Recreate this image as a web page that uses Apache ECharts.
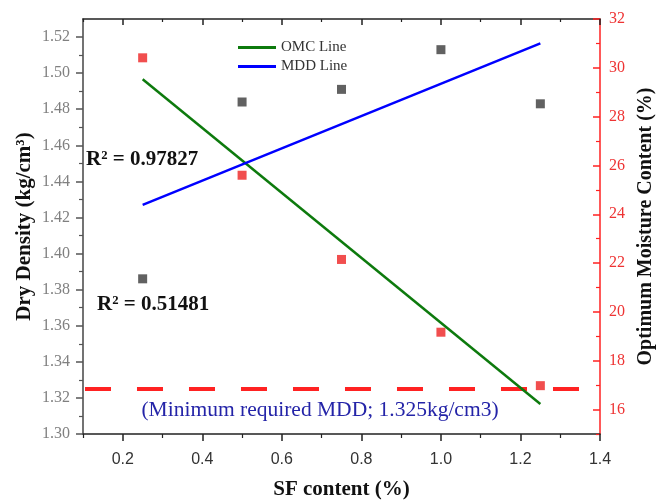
<!DOCTYPE html>
<html>
<head>
<meta charset="utf-8">
<script src="https://cdn.jsdelivr.net/npm/echarts@6/dist/echarts.min.js"></script>
<style>
  html, body { margin: 0; padding: 0; background: #fff; }
  #chart { width: 664px; height: 500px; }
</style>
</head>
<body>
<div id="chart"></div>
<script>
// measured points
const sfContent = [0.25, 0.5, 0.75, 1.0, 1.25];
const dryDensity = [1.386, 1.484, 1.491, 1.513, 1.483];
const moisture = [30.41, 25.6, 22.15, 19.17, 16.98];

// fitted lines (end points)
const fitX = [0.25, 1.25];
const mddFit = [1.427, 1.5165];
const omcFit = [29.53, 16.23];

// minimum required MDD
const minMddX = [0.105, 1.35];
const minMdd = 1.325;

// ticks
const xMajor = [0.2, 0.4, 0.6, 0.8, 1.0, 1.2, 1.4];
const xMinor = [0.1, 0.3, 0.5, 0.7, 0.9, 1.1, 1.3];
const leftMajor = [1.30, 1.32, 1.34, 1.36, 1.38, 1.40, 1.42, 1.44, 1.46, 1.48, 1.50, 1.52];
const leftMinor = [1.31, 1.33, 1.35, 1.37, 1.39, 1.41, 1.43, 1.45, 1.47, 1.49, 1.51];
const rightMajor = [16, 18, 20, 22, 24, 26, 28, 30, 32];
const rightMinor = [15, 17, 19, 21, 23, 25, 27, 29, 31];

const serif = "'Liberation Serif', 'Times New Roman', serif";
const red = '#ff2222';

const myChart = echarts.init(document.getElementById('chart'));

const xBase = { type: 'value', min: 0.1, max: 1.4, splitLine: { show: false } };
const leftBase = { type: 'value', min: 1.30, max: 1.53, position: 'left', splitLine: { show: false } };
const rightBase = { type: 'value', min: 15, max: 32, position: 'right', splitLine: { show: false } };

const option = {
  backgroundColor: '#fff',
  animation: false,
  grid: { left: 83, right: 64, top: 19, bottom: 66, containLabel: false, outerBoundsMode: 'none' },
  legend: {
    orient: 'vertical',
    left: 233,
    top: 35,
    itemWidth: 38,
    itemHeight: 3,
    itemGap: 4,
    textStyle: { fontFamily: serif, fontSize: 15, color: '#333' },
    data: [
      { name: 'OMC Line', icon: 'rect' },
      { name: 'MDD Line', icon: 'rect' },
    ],
  },
  xAxis: [
    {
      ...xBase,
      position: 'bottom',
      name: 'SF content (%)',
      nameLocation: 'middle',
      nameGap: 45,
      nameTextStyle: { fontFamily: serif, fontWeight: 'bold', fontSize: 21, color: '#111' },
      axisLine: { show: true, lineStyle: { color: '#222', width: 1.5 } },
      axisTick: { show: true, inside: false, length: 7, customValues: xMajor, lineStyle: { color: '#222', width: 1.5 } },
      axisLabel: {
        customValues: xMajor,
        margin: 18,
        fontFamily: "'Liberation Sans', Arial, sans-serif",
        fontSize: 16,
        color: '#333',
        formatter: (v) => v.toFixed(1),
      },
    },
    {
      ...xBase,
      position: 'bottom',
      axisLine: { show: false },
      axisTick: { show: true, inside: false, length: 4, customValues: xMinor, lineStyle: { color: '#222', width: 1.2 } },
      axisLabel: { show: false },
    },
    {
      ...xBase,
      position: 'top',
      axisLine: { show: true, lineStyle: { color: '#222', width: 1.5 } },
      axisTick: { show: true, inside: true, length: 6, customValues: xMajor, lineStyle: { color: '#222', width: 1.5 } },
      axisLabel: { show: false },
    },
    {
      ...xBase,
      position: 'top',
      axisLine: { show: false },
      axisTick: { show: true, inside: true, length: 3, customValues: xMinor, lineStyle: { color: '#222', width: 1.2 } },
      axisLabel: { show: false },
    },
  ],
  yAxis: [
    {
      ...leftBase,
      name: 'Dry Density (kg/cm³)',
      nameLocation: 'middle',
      nameGap: 48,
      nameMoveOverlap: false,
      nameTextStyle: { fontFamily: serif, fontWeight: 'bold', fontSize: 21, color: '#111' },
      axisLine: { show: true, lineStyle: { color: '#444', width: 1.5 } },
      axisTick: { show: true, inside: false, length: 7, customValues: leftMajor, lineStyle: { color: '#555', width: 1.5 } },
      axisLabel: {
        customValues: leftMajor,
        margin: 13,
        fontFamily: serif,
        fontSize: 16,
        color: '#808080',
        formatter: (v) => v.toFixed(2),
      },
    },
    {
      ...rightBase,
      name: 'Optimum Moisture Content (%)',
      nameLocation: 'middle',
      nameGap: 33,
      nameRotate: 90,
      nameTextStyle: { fontFamily: serif, fontWeight: 'bold', fontSize: 20, color: '#111' },
      axisLine: { show: true, lineStyle: { color: red, width: 1.5 } },
      axisTick: { show: true, inside: true, length: 7, customValues: rightMajor, lineStyle: { color: red, width: 1.5 } },
      axisLabel: {
        customValues: rightMajor,
        margin: 9,
        fontFamily: serif,
        fontSize: 16,
        color: '#ee3333',
      },
    },
    {
      ...leftBase,
      axisLine: { show: false },
      axisTick: { show: true, inside: false, length: 4, customValues: leftMinor, lineStyle: { color: '#555', width: 1.2 } },
      axisLabel: { show: false },
    },
    {
      ...rightBase,
      axisLine: { show: false },
      axisTick: { show: true, inside: true, length: 4, customValues: rightMinor, lineStyle: { color: red, width: 1.2 } },
      axisLabel: { show: false },
    },
  ],
  series: [
    {
      name: 'Minimum MDD',
      type: 'line',
      xAxisIndex: 0,
      yAxisIndex: 0,
      symbol: 'none',
      silent: true,
      lineStyle: { color: red, width: 4, type: [26, 26] },
      data: minMddX.map((x) => [x, minMdd]),
    },
    {
      name: 'OMC Line',
      type: 'line',
      xAxisIndex: 0,
      yAxisIndex: 1,
      symbol: 'none',
      itemStyle: { color: '#0d7a0d' },
      lineStyle: { color: '#0d7a0d', width: 2.5 },
      data: fitX.map((x, i) => [x, omcFit[i]]),
    },
    {
      name: 'MDD Line',
      type: 'line',
      xAxisIndex: 0,
      yAxisIndex: 0,
      symbol: 'none',
      itemStyle: { color: '#0000ff' },
      lineStyle: { color: '#0000ff', width: 2.5 },
      data: fitX.map((x, i) => [x, mddFit[i]]),
    },
    {
      name: 'MDD',
      type: 'scatter',
      xAxisIndex: 0,
      yAxisIndex: 0,
      symbol: 'rect',
      symbolSize: 9,
      itemStyle: { color: '#3a3a3a' },
      data: sfContent.map((x, i) => [x, dryDensity[i]]),
    },
    {
      name: 'OMC',
      type: 'scatter',
      xAxisIndex: 0,
      yAxisIndex: 1,
      symbol: 'rect',
      symbolSize: 9,
      itemStyle: { color: '#ee2222' },
      data: sfContent.map((x, i) => [x, moisture[i]]),
    },
  ],
  graphic: [
    {
      type: 'text',
      x: 86,
      y: 160,
      style: { text: 'R² = 0.97827', font: 'bold 21px ' + serif, fill: '#111', align: 'left', verticalAlign: 'middle' },
    },
    {
      type: 'text',
      x: 97,
      y: 305,
      style: { text: 'R² = 0.51481', font: 'bold 21px ' + serif, fill: '#111', align: 'left', verticalAlign: 'middle' },
    },
    {
      type: 'text',
      x: 320,
      y: 410,
      style: { text: '(Minimum required MDD; 1.325kg/cm3)', font: '21.5px ' + serif, fill: '#2424a8', align: 'center', verticalAlign: 'middle' },
    },
  ],
};

myChart.setOption(option);
</script>
</body>
</html>
